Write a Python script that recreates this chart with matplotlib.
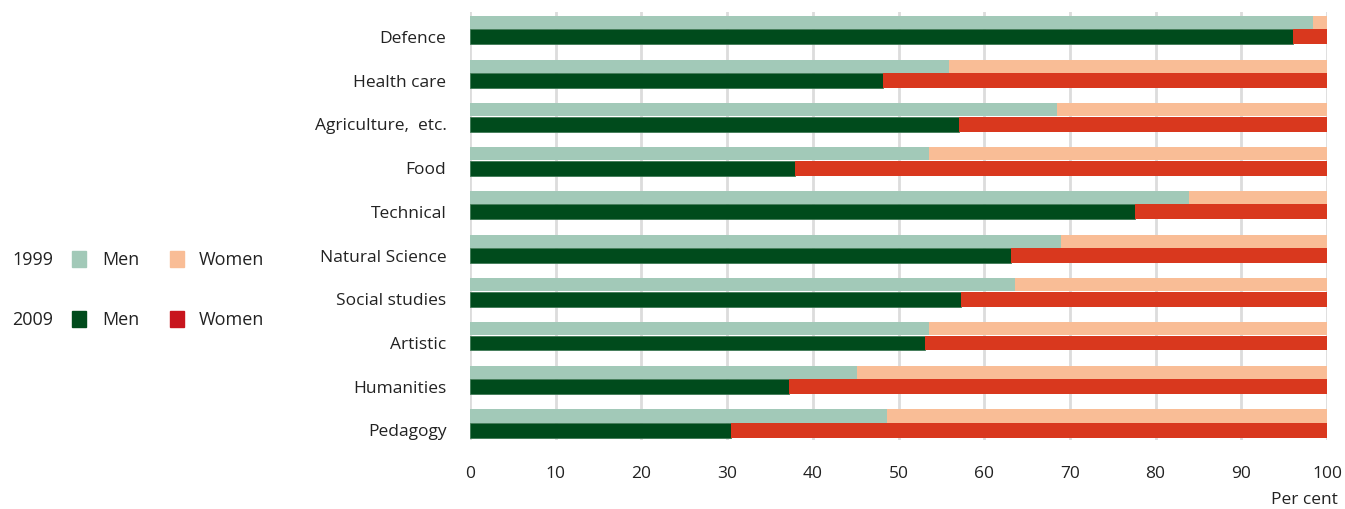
import matplotlib.pyplot as plt
from matplotlib.patches import Rectangle

categories = ['Defence', 'Health care', 'Agriculture,  etc.', 'Food', 'Technical',
              'Natural Science', 'Social studies', 'Artistic', 'Humanities', 'Pedagogy']
men_1999 = [98.4, 55.9, 68.5, 53.6, 83.9, 69.0, 63.6, 53.6, 45.2, 48.7]
men_2009 = [96.0, 48.2, 57.1, 37.9, 77.6, 63.1, 57.3, 53.1, 37.2, 30.5]
women_1999 = [100 - v for v in men_1999]
women_2009 = [100 - v for v in men_2009]

c_men99 = '#a2c9b8'
c_wom99 = '#f9bd96'
c_men09 = '#004b1c'
c_wom09 = '#d9381e'

plt.rcParams['font.family'] = ['Open Sans', 'DejaVu Sans']

fig = plt.figure(figsize=(13.45, 5.09), dpi=100)
ax = fig.add_axes([470 / 1345, 1 - 440 / 509, 857 / 1345, 428 / 509])

y = list(range(len(categories)))
y_light = [v - 0.33 for v in y]

ax.barh(y_light, men_1999, height=0.30, color=c_men99, zorder=2)
ax.barh(y_light, women_1999, left=men_1999, height=0.30, color=c_wom99, zorder=2)
ax.barh(y, men_2009, height=0.34, color=c_men09, edgecolor='#3f7a55', linewidth=0.6, zorder=2)
ax.barh(y, women_2009, left=men_2009, height=0.34, color=c_wom09, zorder=2)

ax.set_xlim(0, 100)
ax.set_ylim(9.22, -0.57)
ax.set_xticks(range(0, 101, 10))
ax.set_yticks(y)
ax.set_yticklabels(categories)
ax.tick_params(axis='both', length=0, labelsize=12.5, colors='#222222')
ax.tick_params(axis='x', pad=19)
ax.tick_params(axis='y', pad=17)
ax.grid(axis='x', color='#dcdcdc', linewidth=2, zorder=0)
for s in ax.spines.values():
    s.set_visible(False)

fig.text(1338 / 1345, 1 - 500 / 509, 'Per cent', ha='right', va='center', fontsize=12.5, color='#222222')

# legend
rows = [('1999', c_men99, c_wom99, 260), ('2009', c_men09, '#c8151d', 320)]
for year, cm, cw, py in rows:
    yf = 1 - py / 509
    fig.text(12 / 1345, yf, year, ha='left', va='center', fontsize=13, color='#222222')
    fig.patches.append(Rectangle((72 / 1345, yf - 7 / 509), 14 / 1345, 16 / 509,
                                 transform=fig.transFigure, color=cm))
    fig.text(102 / 1345, yf, 'Men', ha='left', va='center', fontsize=13, color='#222222')
    fig.patches.append(Rectangle((170 / 1345, yf - 7 / 509), 14 / 1345, 16 / 509,
                                 transform=fig.transFigure, color=cw))
    fig.text(199 / 1345, yf, 'Women', ha='left', va='center', fontsize=13, color='#222222')

fig.savefig('out.png')
